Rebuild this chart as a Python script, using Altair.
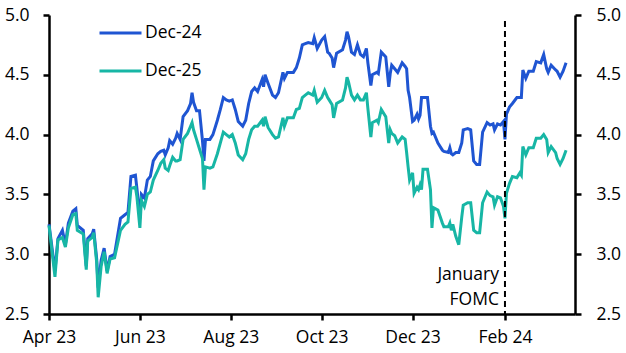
import altair as alt
import pandas as pd

dates = [
    "2023-04-01", "2023-04-05", "2023-04-07", "2023-04-10", "2023-04-12", "2023-04-14", "2023-04-17", "2023-04-19",
    "2023-04-20", "2023-04-24", "2023-04-26", "2023-04-27", "2023-04-30", "2023-05-01", "2023-05-03", "2023-05-04",
    "2023-05-06", "2023-05-08", "2023-05-10", "2023-05-12", "2023-05-15", "2023-05-19", "2023-05-22", "2023-05-24",
    "2023-05-26", "2023-05-29", "2023-05-30", "2023-06-01", "2023-06-02", "2023-06-04", "2023-06-06", "2023-06-08",
    "2023-06-10", "2023-06-13", "2023-06-15", "2023-06-17", "2023-06-18", "2023-06-20", "2023-06-21", "2023-06-23",
    "2023-06-25", "2023-06-26", "2023-06-28", "2023-06-30", "2023-07-03", "2023-07-05", "2023-07-06", "2023-07-07",
    "2023-07-09", "2023-07-11", "2023-07-13", "2023-07-14", "2023-07-15", "2023-07-18", "2023-07-20", "2023-07-23",
    "2023-07-25", "2023-07-27", "2023-07-29", "2023-07-31", "2023-08-02", "2023-08-04", "2023-08-06", "2023-08-09",
    "2023-08-11", "2023-08-13", "2023-08-15", "2023-08-17", "2023-08-19", "2023-08-22", "2023-08-23", "2023-08-24",
    "2023-08-26", "2023-08-29", "2023-08-31", "2023-09-02", "2023-09-05", "2023-09-06", "2023-09-08", "2023-09-12",
    "2023-09-14", "2023-09-16", "2023-09-18", "2023-09-20", "2023-09-22", "2023-09-25", "2023-09-26", "2023-09-28",
    "2023-10-01", "2023-10-03", "2023-10-05", "2023-10-06", "2023-10-08", "2023-10-09", "2023-10-11", "2023-10-15",
    "2023-10-17", "2023-10-18", "2023-10-19", "2023-10-21", "2023-10-23", "2023-10-25", "2023-10-27", "2023-10-29",
    "2023-10-31", "2023-11-01", "2023-11-03", "2023-11-04", "2023-11-07", "2023-11-08", "2023-11-10", "2023-11-13",
    "2023-11-15", "2023-11-16", "2023-11-17", "2023-11-19", "2023-11-21", "2023-11-24", "2023-11-26", "2023-11-27",
    "2023-11-28", "2023-11-29", "2023-12-01", "2023-12-02", "2023-12-04", "2023-12-05", "2023-12-06", "2023-12-07",
    "2023-12-08", "2023-12-11", "2023-12-13", "2023-12-14", "2023-12-15", "2023-12-18", "2023-12-21", "2023-12-22",
    "2023-12-25", "2023-12-26", "2023-12-27", "2023-12-28", "2023-12-30", "2024-01-01", "2024-01-03", "2024-01-04",
    "2024-01-07", "2024-01-09", "2024-01-11", "2024-01-13", "2024-01-15", "2024-01-17", "2024-01-20", "2024-01-22",
    "2024-01-24", "2024-01-25", "2024-01-27", "2024-01-29", "2024-01-31", "2024-02-01", "2024-02-02", "2024-02-04",
    "2024-02-06", "2024-02-09", "2024-02-11", "2024-02-12", "2024-02-13", "2024-02-15", "2024-02-17", "2024-02-20",
    "2024-02-22", "2024-02-25", "2024-02-27", "2024-02-29", "2024-03-01", "2024-03-03", "2024-03-06", "2024-03-07",
    "2024-03-09", "2024-03-11", "2024-03-13",
]

dec24 = [
    3.25, 2.86, 3.13, 3.20, 3.08, 3.26, 3.36, 3.38, 3.24, 3.20, 2.90, 3.13, 3.17, 3.21, 2.96, 2.72,
    2.95, 3.05, 2.86, 2.98, 3.00, 3.30, 3.33, 3.35, 3.65, 3.66, 3.55, 3.30, 3.50, 3.47, 3.62, 3.65,
    3.78, 3.84, 3.86, 3.87, 3.83, 3.89, 3.95, 3.92, 3.97, 4.01, 3.96, 4.15, 4.20, 4.26, 4.35, 4.27,
    4.20, 4.20, 3.95, 3.78, 3.96, 3.96, 4.00, 4.12, 4.21, 4.31, 4.29, 4.28, 4.29, 4.21, 4.11, 4.07,
    4.12, 4.26, 4.36, 4.39, 4.36, 4.46, 4.40, 4.50, 4.43, 4.33, 4.31, 4.35, 4.52, 4.47, 4.52, 4.52,
    4.56, 4.64, 4.75, 4.76, 4.77, 4.76, 4.81, 4.72, 4.79, 4.82, 4.69, 4.68, 4.64, 4.56, 4.68, 4.71,
    4.79, 4.86, 4.82, 4.69, 4.67, 4.75, 4.67, 4.65, 4.72, 4.60, 4.41, 4.50, 4.52, 4.51, 4.69, 4.65,
    4.40, 4.51, 4.58, 4.55, 4.52, 4.60, 4.57, 4.55, 4.37, 4.31, 4.11, 4.12, 4.17, 4.13, 4.16, 4.31,
    4.31, 4.31, 4.07, 4.01, 4.02, 3.93, 3.87, 3.86, 3.85, 3.89, 3.84, 3.83, 3.85, 3.85, 3.93, 4.04,
    4.05, 4.04, 3.78, 3.75, 3.75, 4.02, 4.10, 4.08, 4.09, 4.04, 4.09, 4.08, 4.11, 3.96, 4.17, 4.23,
    4.26, 4.31, 4.31, 4.31, 4.54, 4.47, 4.53, 4.53, 4.61, 4.60, 4.67, 4.55, 4.52, 4.58, 4.54, 4.53,
    4.48, 4.53, 4.60,
]

dec25 = [
    3.24, 2.81, 3.12, 3.14, 3.06, 3.22, 3.33, 3.34, 3.20, 3.17, 2.87, 3.11, 3.14, 3.18, 2.93, 2.64,
    2.90, 3.02, 2.84, 2.96, 2.97, 3.20, 3.25, 3.27, 3.55, 3.56, 3.48, 3.22, 3.45, 3.40, 3.50, 3.52,
    3.62, 3.70, 3.76, 3.79, 3.72, 3.70, 3.74, 3.81, 3.78, 3.78, 3.79, 3.96, 4.01, 4.07, 4.10, 4.04,
    3.96, 3.88, 3.80, 3.54, 3.73, 3.72, 3.73, 3.84, 3.93, 4.02, 4.00, 3.98, 4.00, 3.93, 3.83, 3.79,
    3.84, 3.96, 4.04, 4.07, 4.07, 4.12, 4.07, 4.15, 4.06, 4.00, 3.97, 3.98, 4.14, 4.07, 4.14, 4.14,
    4.21, 4.22, 4.31, 4.33, 4.35, 4.33, 4.37, 4.27, 4.31, 4.37, 4.31, 4.29, 4.25, 4.14, 4.26, 4.29,
    4.39, 4.48, 4.44, 4.33, 4.29, 4.33, 4.29, 4.29, 4.35, 4.22, 3.98, 4.10, 4.12, 4.10, 4.21, 4.15,
    3.93, 4.04, 4.01, 3.99, 3.93, 3.98, 3.96, 3.85, 3.73, 3.62, 3.68, 3.51, 3.56, 3.54, 3.58, 3.54,
    3.71, 3.71, 3.54, 3.22, 3.39, 3.37, 3.26, 3.23, 3.23, 3.26, 3.20, 3.25, 3.15, 3.08, 3.31, 3.41,
    3.43, 3.43, 3.20, 3.18, 3.18, 3.43, 3.52, 3.49, 3.48, 3.41, 3.48, 3.47, 3.40, 3.30, 3.51, 3.59,
    3.65, 3.64, 3.68, 3.66, 3.90, 3.83, 3.89, 3.89, 3.97, 3.97, 4.00, 3.96, 3.85, 3.90, 3.85, 3.80,
    3.75, 3.80, 3.87,
]

series_names = ["Dec-24", "Dec-25"]
series_colors = ["#1f55d2", "#17b6a5"]

fomc_date = ["2024-02-01"]
fomc_top = [4.95]
fomc_bottom = [2.5]
fomc_label_y = [2.83]
fomc_text = [["January", "FOMC"]]

tick_dates = [(2023, 4), (2023, 6), (2023, 8), (2023, 10), (2023, 12), (2024, 2)]
y_ticks = [2.5, 3.0, 3.5, 4.0, 4.5, 5.0]

df = pd.DataFrame({"date": dates, series_names[0]: dec24, series_names[1]: dec25})
long = df.melt(id_vars="date", var_name="series", value_name="value")

rule_df = pd.DataFrame({"date": fomc_date, "top": fomc_top, "bottom": fomc_bottom})
text_df = pd.DataFrame({"date": fomc_date, "y": fomc_label_y, "label": fomc_text})

FONT = "Open Sans"
FS = 17.5

x_scale = alt.Scale(type="utc", domain=[alt.DateTime(year=2023, month=4, date=1, utc=True),
                                        alt.DateTime(year=2024, month=3, date=19, utc=True)])
y_scale = alt.Scale(domain=[2.5, 5.0], nice=False, zero=False)

x_axis = alt.Axis(
    values=[alt.DateTime(year=y, month=m, date=1, utc=True) for y, m in tick_dates],
    format="%b %y", title=None, labelFlush=False, labelPadding=8, orient="bottom",
)

lines = alt.Chart(long).mark_line(strokeWidth=3, interpolate="linear").encode(
    x=alt.X("date:T", scale=x_scale, axis=x_axis),
    y=alt.Y("value:Q", scale=y_scale,
            axis=alt.Axis(orient="left", values=y_ticks, format=".1f", title=None, labelPadding=14)),
    color=alt.Color("series:N",
                    scale=alt.Scale(domain=series_names, range=series_colors),
                    legend=alt.Legend(
                        orient="none", legendX=52.5, legendY=-1, direction="vertical",
                        title=None, symbolType="M-1.2,0L1.2,0", symbolSize=1225,
                        symbolStrokeWidth=3, labelFontSize=FS, labelFont=FONT,
                        labelColor="black", labelOffset=5.5, padding=0, rowPadding=10,
                    )),
)

rule = alt.Chart(rule_df).mark_rule(color="black", strokeWidth=2, strokeDash=[6, 4]).encode(
    x=alt.X("date:T", scale=x_scale, axis=x_axis),
    y=alt.Y("top:Q", scale=y_scale,
            axis=alt.Axis(orient="right", values=y_ticks, format=".1f", title=None, labelPadding=15)),
    y2="bottom:Q",
)

text = alt.Chart(text_df).mark_text(
    align="right", baseline="middle", dx=-6, fontSize=FS, font=FONT, color="black", lineHeight=25,
).encode(
    x=alt.X("date:T", scale=x_scale, axis=x_axis),
    y=alt.Y("y:Q", scale=y_scale, axis=None),
    text="label",
)

chart = alt.layer(lines, rule, text).resolve_scale(y="independent").properties(
    width=526, height=299,
    autosize=alt.AutoSizeParams(type="none"),
    padding={"left": 49, "top": 15, "right": 51, "bottom": 39},
    background="white",
).configure_view(stroke=None).configure_axis(
    grid=False, domainColor="black", domainWidth=2.5, tickColor="black", tickWidth=2.5,
    tickSize=6, labelFontSize=FS, labelFont=FONT, labelColor="black",
)

chart.save("out.html", embed_options={"renderer": "svg", "actions": False})
